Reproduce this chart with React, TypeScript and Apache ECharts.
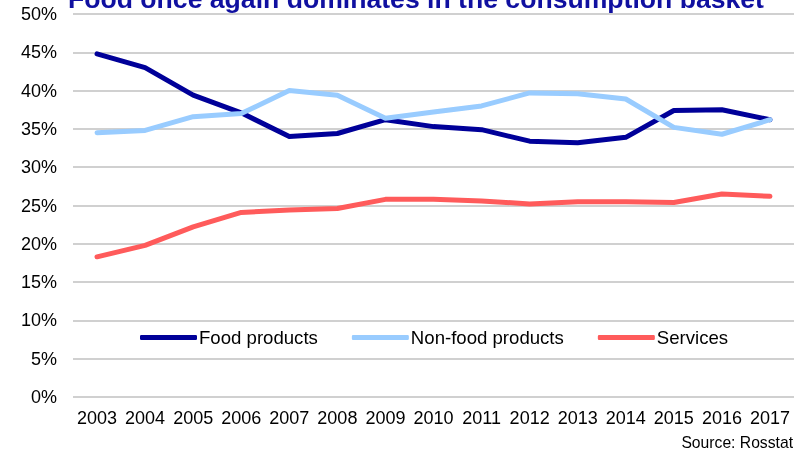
import React, { useEffect, useRef } from "react";
import * as echarts from "echarts";

const years = ["2003","2004","2005","2006","2007","2008","2009","2010","2011","2012","2013","2014","2015","2016","2017"];
const foodProducts = [44.8, 43.0, 39.4, 37.1, 34.0, 34.4, 36.2, 35.3, 34.9, 33.4, 33.2, 33.9, 37.4, 37.5, 36.2];
const nonFoodProducts = [34.5, 34.8, 36.6, 37.0, 40.0, 39.4, 36.4, 37.2, 38.0, 39.7, 39.6, 38.9, 35.2, 34.3, 36.2];
const services = [18.3, 19.8, 22.2, 24.1, 24.4, 24.6, 25.8, 25.8, 25.6, 25.2, 25.5, 25.5, 25.4, 26.5, 26.2];
const yTicks = [0, 5, 10, 15, 20, 25, 30, 35, 40, 45, 50];

const titleText = "Food once again dominates in the consumption basket";
const sourceText = "Source: Rosstat";

const FONT = "'Liberation Sans', Arial, sans-serif";

export default function App() {
  const ref = useRef<HTMLDivElement>(null);
  useEffect(() => {
    if (!ref.current) return;
    const chart = echarts.init(ref.current, undefined, { renderer: "svg" });
    const mk = (name: string, data: number[], color: string) => ({
      name,
      type: "line",
      data,
      showSymbol: false,
      symbol: "none",
      lineStyle: { color, width: 5, cap: "round", join: "round" },
      itemStyle: { color },
    });
    chart.setOption({
      animation: false,
      textStyle: { fontFamily: FONT },
      grid: { left: 73, right: 5, top: 14, bottom: 59, containLabel: false },
      xAxis: {
        type: "category",
        data: years,
        boundaryGap: true,
        axisLine: { show: false },
        axisTick: { show: false },
        axisLabel: { color: "#000", fontSize: 18, fontFamily: FONT, margin: 12, interval: 0 },
      },
      yAxis: {
        type: "value",
        min: yTicks[0],
        max: yTicks[yTicks.length - 1],
        interval: 5,
        axisLine: { show: false },
        axisTick: { show: false },
        axisLabel: { color: "#000", fontSize: 18, fontFamily: FONT, margin: 16, formatter: "{value}%" },
        splitLine: { lineStyle: { color: "#c0c0c0", width: 1.5 } },
      },
      legend: {
        left: 140,
        top: 328,
        padding: 0,
        itemWidth: 57,
        itemHeight: 5,
        itemGap: 34,
        icon: "roundRect",
        textStyle: { color: "#000", fontSize: 18.6, fontFamily: FONT, padding: [0, 0, 0, -3] },
        data: ["Food products", "Non-food products", "Services"],
      },
      graphic: [
        {
          type: "text",
          left: 68,
          top: -15,
          style: { text: titleText, fill: "#1010a0", font: `bold 26.6px ${FONT}` },
        },
        {
          type: "text",
          right: 6,
          top: 434,
          style: { text: sourceText, fill: "#000", font: `15.7px ${FONT}` },
        },
      ],
      series: [
        mk("Food products", foodProducts, "#000099"),
        mk("Non-food products", nonFoodProducts, "#99ccff"),
        mk("Services", services, "#ff5b5b"),
      ],
    });
    return () => chart.dispose();
  }, []);
  return <div ref={ref} style={{ position: "fixed", left: 0, top: 0, width: 799, height: 456 }} />;
}
